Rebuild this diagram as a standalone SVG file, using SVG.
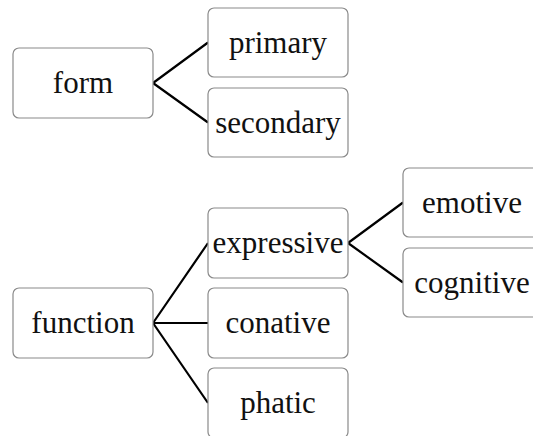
<svg xmlns="http://www.w3.org/2000/svg" width="533" height="436" viewBox="0 0 533 436">
<style>
.box{fill:#fff;stroke:#8a8a8a;stroke-width:1.2}
.lbl{font-family:"Liberation Serif","DejaVu Serif",serif;font-size:31px;fill:#111;text-anchor:middle}
.con{stroke:#000;stroke-width:2.2;fill:none}
</style>
<rect width="533" height="436" fill="#fff"/>
<g id="connectors">
<path class="con" d="M153,83 L208,42.5 M153,83 L208,122.5"/>
<path class="con" d="M153,323 L208,243 M153,323 L208,323 M153,323 L208,403"/>
<path class="con" d="M348,243 L403,202.5 M348,243 L403,282.5"/>
</g>
<g id="form"><rect class="box" x="13" y="48" width="140" height="70" rx="6"/><text class="lbl" x="83" y="93">form</text></g>
<g id="primary"><rect class="box" x="208" y="8" width="140" height="69" rx="6"/><text class="lbl" x="278" y="53">primary</text></g>
<g id="secondary"><rect class="box" x="208" y="88" width="140" height="69" rx="6"/><text class="lbl" x="278" y="133">secondary</text></g>
<g id="function"><rect class="box" x="13" y="288" width="140" height="70" rx="6"/><text class="lbl" x="83" y="333">function</text></g>
<g id="expressive"><rect class="box" x="208" y="208" width="140" height="70" rx="6"/><text class="lbl" x="278" y="253">expressive</text></g>
<g id="conative"><rect class="box" x="208" y="288" width="140" height="70" rx="6"/><text class="lbl" x="278" y="333">conative</text></g>
<g id="phatic"><rect class="box" x="208" y="368" width="140" height="70" rx="6"/><text class="lbl" x="278" y="413">phatic</text></g>
<g id="emotive"><rect class="box" x="403" y="168" width="140" height="69" rx="6"/><text class="lbl" x="472" y="213">emotive</text></g>
<g id="cognitive"><rect class="box" x="403" y="248" width="140" height="69" rx="6"/><text class="lbl" x="472" y="293">cognitive</text></g>
</svg>
